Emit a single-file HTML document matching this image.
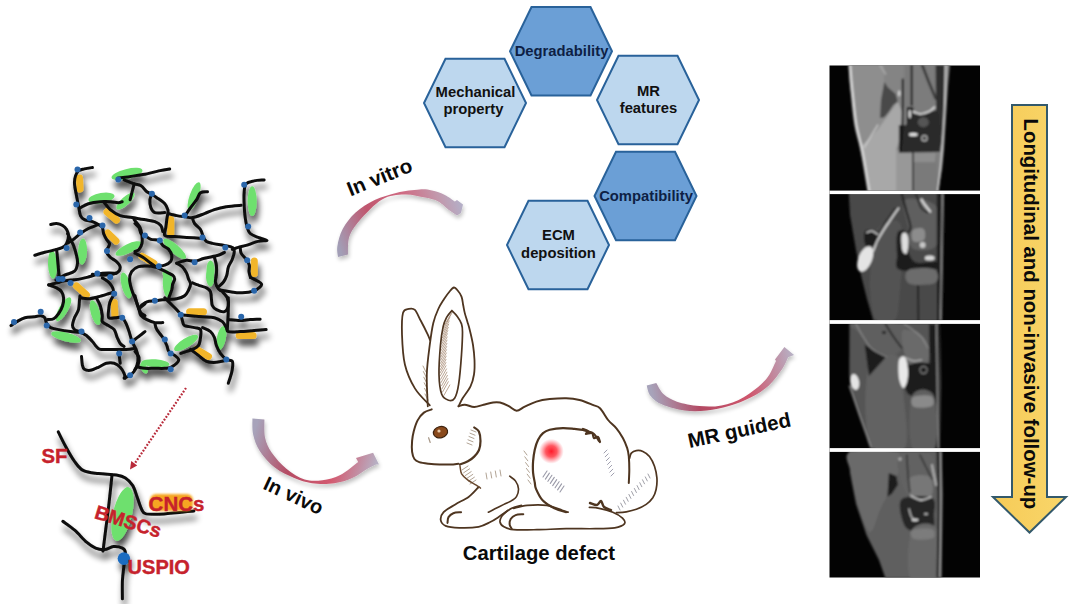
<!DOCTYPE html>
<html><head><meta charset="utf-8"><style>
html,body{margin:0;padding:0;background:#fff;width:1080px;height:604px;overflow:hidden}
svg{display:block}
text{font-family:"Liberation Sans",sans-serif;font-weight:bold}
.hx{font-size:14.8px}
.lb{font-size:20px;fill:#0a0a0a}
.rd{fill:#c6222c;stroke:#c6222c;stroke-width:0.4px}
</style></head><body>
<svg width="1080" height="604" viewBox="0 0 1080 604">
<defs>
<filter id="sh" x="-10%" y="-10%" width="130%" height="130%">
 <feGaussianBlur in="SourceAlpha" stdDeviation="3"/>
 <feOffset dx="1.5" dy="7" result="b"/>
 <feComponentTransfer><feFuncA type="linear" slope="0.7"/></feComponentTransfer>
 <feMerge><feMergeNode/><feMergeNode in="SourceGraphic"/></feMerge>
</filter>
<filter id="ash" x="-20%" y="-20%" width="140%" height="150%">
 <feGaussianBlur in="SourceAlpha" stdDeviation="2"/>
 <feOffset dx="1" dy="3" result="b"/>
 <feComponentTransfer><feFuncA type="linear" slope="0.25"/></feComponentTransfer>
 <feMerge result="m"><feMergeNode/><feMergeNode in="SourceGraphic"/></feMerge>
 <feGaussianBlur in="m" stdDeviation="0.6"/>
</filter>
<filter id="bl"><feGaussianBlur stdDeviation="1.2"/></filter>
<filter id="bl2"><feGaussianBlur stdDeviation="0.6"/></filter>
<linearGradient id="gy" x1="0" y1="0" x2="1" y2="0"><stop offset="0" stop-color="#f6cb58"/><stop offset="1" stop-color="#f9d66a"/></linearGradient>
<radialGradient id="spot"><stop offset="0" stop-color="#ff1a2a"/><stop offset="0.45" stop-color="#ff3a44" stop-opacity="0.85"/><stop offset="1" stop-color="#ff6070" stop-opacity="0"/></radialGradient>
<linearGradient id="gvitro" gradientUnits="userSpaceOnUse" x1="340" y1="250" x2="462" y2="208">
 <stop offset="0" stop-color="#a29eb6"/><stop offset="0.3" stop-color="#c0566e"/><stop offset="0.6" stop-color="#cf6a82"/><stop offset="0.85" stop-color="#c298ac"/><stop offset="1" stop-color="#b4aec6"/></linearGradient>
<linearGradient id="gvivo" gradientUnits="userSpaceOnUse" x1="258" y1="420" x2="378" y2="458">
 <stop offset="0" stop-color="#a7a3ba"/><stop offset="0.35" stop-color="#b54c64"/><stop offset="0.7" stop-color="#d35a70"/><stop offset="1" stop-color="#b7b0c4"/></linearGradient>
<linearGradient id="gmrg" gradientUnits="userSpaceOnUse" x1="650" y1="385" x2="792" y2="352">
 <stop offset="0" stop-color="#a7a3ba"/><stop offset="0.3" stop-color="#b34a63"/><stop offset="0.65" stop-color="#cf566d"/><stop offset="1" stop-color="#b7b0c4"/></linearGradient>
</defs>
<rect width="1080" height="604" fill="#fff"/>

<!-- network -->
<g filter="url(#sh)">
<g fill="#6ee06e"><ellipse cx="127.0" cy="174.0" rx="15.9" ry="5.0" transform="rotate(-14.0 127.0 174.0)"/><ellipse cx="101.5" cy="198.0" rx="13.2" ry="5.0" transform="rotate(-9.9 101.5 198.0)"/><ellipse cx="125.5" cy="201.0" rx="11.8" ry="4.0" transform="rotate(-43.0 125.5 201.0)"/><ellipse cx="52.5" cy="264.5" rx="14.0" ry="4.5" transform="rotate(87.7 52.5 264.5)"/><ellipse cx="82.5" cy="251.5" rx="13.0" ry="4.5" transform="rotate(92.5 82.5 251.5)"/><ellipse cx="194.1" cy="196.2" rx="14.7" ry="4.5" transform="rotate(109.7 194.1 196.2)"/><ellipse cx="252.2" cy="201.2" rx="14.9" ry="4.5" transform="rotate(90.0 252.2 201.2)"/><ellipse cx="174.7" cy="248.9" rx="14.5" ry="4.5" transform="rotate(40.5 174.7 248.9)"/><ellipse cx="210.5" cy="270.0" rx="9.5" ry="4.0" transform="rotate(90.0 210.5 270.0)"/><ellipse cx="167.5" cy="276.5" rx="7.5" ry="4.0" transform="rotate(65.6 167.5 276.5)"/><ellipse cx="128.5" cy="248.5" rx="14.2" ry="4.5" transform="rotate(-25.6 128.5 248.5)"/><ellipse cx="63.5" cy="309.2" rx="13.5" ry="4.5" transform="rotate(119.8 63.5 309.2)"/><ellipse cx="66.1" cy="337.0" rx="15.3" ry="4.5" transform="rotate(14.6 66.1 337.0)"/><ellipse cx="95.3" cy="312.7" rx="12.8" ry="4.5" transform="rotate(74.9 95.3 312.7)"/><ellipse cx="126.1" cy="285.4" rx="13.3" ry="4.5" transform="rotate(75.3 126.1 285.4)"/><ellipse cx="167.3" cy="283.9" rx="13.4" ry="4.5" transform="rotate(87.6 167.3 283.9)"/><ellipse cx="210.0" cy="277.4" rx="9.0" ry="4.0" transform="rotate(86.2 210.0 277.4)"/><ellipse cx="186.1" cy="342.9" rx="13.8" ry="4.5" transform="rotate(148.3 186.1 342.9)"/><ellipse cx="221.4" cy="338.0" rx="12.1" ry="4.5" transform="rotate(100.9 221.4 338.0)"/><ellipse cx="155.4" cy="363.3" rx="14.0" ry="4.0" transform="rotate(4.6 155.4 363.3)"/><ellipse cx="144.0" cy="368.0" rx="6.0" ry="3.0" transform="rotate(63.4 144.0 368.0)"/></g>
<g stroke="#f1b52c" stroke-width="7" stroke-linecap="round"><line x1="79.5" y1="178" x2="80" y2="189"/><line x1="107" y1="212" x2="116.5" y2="220"/><line x1="107.8" y1="233" x2="116" y2="241"/><line x1="170.7" y1="219.6" x2="170.7" y2="233.5"/><line x1="142" y1="256.3" x2="153.9" y2="263.3"/><line x1="254.3" y1="261" x2="254.3" y2="273.5"/><line x1="76.5" y1="285.9" x2="86.4" y2="294.8"/><line x1="114.3" y1="302.5" x2="114.8" y2="314.5"/><line x1="189.6" y1="311.7" x2="203.5" y2="311.7"/><line x1="239.2" y1="335.5" x2="253.1" y2="335.5"/><line x1="196.6" y1="349.4" x2="208.5" y2="356.4"/></g>
<g fill="none" stroke="#0a0a0a" stroke-width="3" stroke-linecap="round" stroke-linejoin="round"><path d="M92.4,167.5C91.1,167.7 86.7,168.3 84.4,168.9C82.1,169.5 80.0,169.7 78.5,170.9C77.0,172.1 76.2,173.8 75.5,175.9C74.8,178.1 74.3,180.5 74.5,183.8C74.7,187.1 75.8,192.0 76.5,195.7C77.2,199.3 77.8,202.4 78.5,205.7C79.2,209.0 79.5,213.3 80.5,215.6C81.5,217.9 82.4,218.6 84.4,219.6C86.4,220.6 90.1,220.8 92.4,221.6C94.7,222.4 96.7,223.5 98.3,224.5C99.9,225.5 101.4,226.0 102.3,227.5C103.2,229.0 102.9,231.5 103.6,233.5C104.3,235.5 105.6,237.9 106.6,239.6C107.6,241.3 109.2,242.3 109.5,243.6C109.8,244.9 108.8,246.1 108.3,247.4C107.8,248.7 106.0,249.7 106.3,251.3C106.6,253.0 108.5,255.6 110.2,257.3C111.9,259.0 114.5,259.7 116.2,261.3C117.9,262.9 120.2,265.2 120.2,267.2C120.2,269.2 118.9,271.9 116.2,273.2C113.5,274.5 108.3,275.0 104.3,275.2C100.3,275.4 94.4,274.4 92.4,274.2"/><path d="M80.5,207.7C81.8,207.0 85.1,204.7 88.4,203.7C91.7,202.7 96.7,202.0 100.3,201.7C103.9,201.4 107.2,201.5 110.2,201.7C113.2,201.9 116.2,202.7 118.2,202.7C120.2,202.7 121.5,201.9 122.2,201.7"/><path d="M104.3,202.7C105.3,203.8 107.5,207.4 110.2,209.6C112.9,211.8 116.6,214.3 120.2,215.6C123.8,216.9 128.1,216.9 132.1,217.6C136.1,218.3 140.2,218.9 144.0,219.6C147.8,220.3 152.1,220.6 154.9,221.6C157.7,222.6 159.5,223.8 160.8,225.5C162.1,227.2 162.5,230.5 162.8,231.5"/><path d="M98.3,224.5C96.7,225.2 91.4,227.0 88.4,228.5C85.4,230.0 83.0,231.7 80.5,233.5C78.0,235.3 75.6,237.8 73.5,239.4C71.4,241.0 68.9,242.4 68.0,243.0"/><path d="M50.7,224.5C51.7,224.3 54.6,223.3 56.6,223.5C58.6,223.7 60.9,224.5 62.6,225.5C64.3,226.5 65.6,227.8 66.6,229.5C67.6,231.2 68.5,233.2 68.5,235.5C68.5,237.8 67.6,241.4 66.6,243.4C65.6,245.4 64.9,246.2 62.6,247.4C60.3,248.6 55.7,249.6 52.7,250.4C49.7,251.2 47.7,251.5 44.7,252.3C41.7,253.1 36.4,254.8 34.8,255.3"/><path d="M67.6,233.5C68.1,234.5 69.5,237.4 70.5,239.4C71.5,241.4 72.5,242.8 73.5,245.4C74.5,248.1 75.8,252.3 76.5,255.3C77.2,258.3 77.8,260.7 77.5,263.3C77.2,265.9 76.7,269.2 74.5,271.2C72.3,273.2 67.7,273.7 64.6,275.2C61.5,276.7 57.4,279.2 56.0,280.0"/><path d="M56.6,249.4C56.8,251.1 57.3,255.7 57.6,259.3C57.9,262.9 58.3,267.9 58.6,271.2C58.9,274.5 59.4,277.8 59.6,279.1"/><path d="M118.2,177.9C119.8,177.7 124.5,177.4 128.1,176.9C131.7,176.4 136.9,175.4 140.0,174.9C143.1,174.4 143.8,174.6 146.9,173.9C150.0,173.2 155.0,171.7 158.8,170.9C162.6,170.1 167.9,169.2 169.7,168.9"/><path d="M124.1,179.9C125.8,180.6 131.3,182.8 134.1,183.8C136.9,184.8 138.9,184.5 141.0,185.8C143.1,187.1 145.2,190.5 146.9,191.8C148.6,193.1 149.2,192.8 150.9,193.8C152.6,194.8 154.5,196.0 156.8,197.7C159.1,199.3 163.0,201.7 164.8,203.7C166.6,205.7 167.1,207.9 167.8,209.6C168.5,211.2 167.3,212.6 168.8,213.6C170.3,214.6 174.1,215.1 176.7,215.6C179.3,216.1 181.9,216.3 184.6,216.6C187.2,216.9 189.3,218.1 192.6,217.6C195.9,217.1 200.9,214.9 204.5,213.6C208.1,212.3 210.8,210.8 214.4,209.6C218.0,208.4 221.8,207.4 226.3,206.7C230.8,206.0 238.7,205.5 241.2,205.3"/><path d="M134.1,183.8C133.8,185.1 132.8,189.2 132.1,191.8C131.4,194.5 130.4,198.4 130.1,199.7"/><path d="M134.1,219.6C135.1,220.9 138.7,224.8 140.0,227.5C141.3,230.2 141.7,232.8 142.0,235.5C142.3,238.2 142.5,241.1 142.0,243.4C141.5,245.7 140.2,248.1 139.0,249.4C137.8,250.7 135.7,251.0 135.0,251.3"/><path d="M151.9,193.8C151.6,194.8 150.1,197.4 149.9,199.7C149.7,202.0 150.1,205.5 150.9,207.7C151.7,209.8 152.6,211.8 154.9,212.6C157.2,213.4 163.2,212.6 164.8,212.6"/><path d="M184.6,216.6C185.6,215.1 188.6,210.5 190.6,207.7C192.6,204.9 194.9,202.2 196.6,199.7C198.2,197.2 198.7,194.1 200.5,192.8C202.3,191.5 206.3,192.0 207.5,191.8"/><path d="M167.8,213.6C167.6,214.6 167.1,217.3 166.8,219.6C166.5,221.9 166.1,224.8 165.8,227.5C165.5,230.2 163.3,234.0 164.8,235.5C166.3,237.0 171.1,236.2 174.7,236.5C178.3,236.8 182.0,237.1 186.6,237.4C191.2,237.7 199.8,238.2 202.5,238.4"/><path d="M192.6,218.6C192.9,219.4 193.3,221.7 194.6,223.5C195.9,225.3 199.0,227.2 200.5,229.5C202.0,231.8 202.5,235.4 203.5,237.4C204.5,239.4 205.0,240.4 206.5,241.4C208.0,242.4 209.4,242.7 212.4,243.4C215.4,244.1 221.1,244.7 224.4,245.4C227.7,246.1 230.7,246.4 232.3,247.4C234.0,248.4 234.3,249.3 234.3,251.3C234.3,253.3 233.3,256.7 232.3,259.3C231.3,261.9 229.2,264.6 228.3,267.2C227.4,269.8 227.6,272.7 226.8,275.2C226.0,277.7 224.9,280.1 223.5,282.0C222.1,283.9 219.2,286.1 218.4,286.9"/><path d="M264.1,179.9C262.4,180.1 257.1,180.2 254.1,180.9C251.1,181.6 247.8,182.0 246.2,183.8C244.5,185.6 244.5,188.2 244.2,191.8C243.9,195.5 244.0,201.4 244.2,205.7C244.4,210.0 244.7,214.0 245.2,217.6C245.7,221.2 246.4,224.8 247.2,227.5C248.0,230.2 248.4,231.8 250.2,233.5C252.0,235.2 255.3,236.2 258.1,237.4C260.9,238.6 267.0,239.7 267.0,240.4C267.0,241.1 261.6,240.6 258.1,241.4C254.6,242.2 249.5,244.4 246.2,245.4C242.9,246.4 240.6,246.7 238.3,247.4C236.0,248.1 233.3,249.1 232.3,249.4"/><path d="M240.2,247.4C240.4,248.4 240.2,251.3 241.2,253.3C242.2,255.3 244.8,257.3 246.2,259.3C247.5,261.3 248.8,263.1 249.3,265.2C249.8,267.2 248.8,269.6 249.0,271.6C249.2,273.7 250.2,276.5 250.5,277.5"/><path d="M135.0,223.5C135.7,224.2 138.0,225.8 139.0,227.5C140.0,229.2 140.0,232.2 141.0,233.5C142.0,234.8 143.2,234.5 144.9,235.5C146.6,236.5 148.6,238.6 150.9,239.4C153.2,240.2 156.8,239.4 158.8,240.4C160.8,241.4 161.1,243.9 162.8,245.4C164.5,246.9 167.3,247.8 168.8,249.4C170.3,251.1 171.4,253.3 171.7,255.3C172.0,257.3 171.8,259.7 170.7,261.3C169.5,262.9 166.8,264.4 164.8,265.2C162.8,266.0 159.8,266.0 158.8,266.2"/><path d="M135.0,253.3C136.3,254.0 140.2,255.6 142.9,257.3C145.6,259.0 148.6,261.7 150.9,263.3C153.2,264.9 154.5,265.9 156.8,267.2C159.1,268.5 162.2,269.9 164.8,271.2C167.5,272.5 171.0,273.9 172.7,275.2C174.3,276.5 174.7,277.6 174.7,279.1C174.7,280.6 173.2,282.2 172.7,284.0C172.2,285.8 172.3,287.6 171.7,289.9C171.0,292.2 169.3,296.5 168.8,297.8"/><path d="M176.7,263.3C178.3,262.8 183.6,260.6 186.6,260.3C189.6,260.0 191.6,261.6 194.6,261.3C197.6,261.0 200.5,259.3 204.5,258.3C208.5,257.3 215.1,256.3 218.4,255.3C221.7,254.3 223.4,252.8 224.4,252.3"/><path d="M176.7,263.3C177.7,263.9 181.0,265.6 182.7,267.2C184.3,268.8 185.6,271.2 186.6,273.2C187.6,275.2 187.9,277.3 188.6,279.1C189.3,280.9 190.6,282.2 190.6,284.0C190.6,285.8 189.6,288.0 188.6,290.0C187.6,292.0 186.6,294.3 184.6,295.8C182.6,297.3 180.3,298.1 176.7,298.8C173.1,299.5 166.4,299.5 162.8,299.8C159.2,300.1 157.6,300.5 154.9,300.8C152.2,301.1 149.2,301.0 146.9,301.8C144.6,302.6 142.0,305.1 141.0,305.7"/><path d="M214.4,257.3C214.7,258.6 216.1,262.2 216.4,265.2C216.7,268.2 216.6,272.4 216.4,275.2C216.2,278.0 215.1,279.6 215.4,281.9C215.7,284.2 217.2,287.2 218.4,288.9C219.6,290.5 220.9,290.3 222.4,291.8C223.9,293.3 226.3,295.5 227.3,297.8C228.3,300.1 228.8,303.4 228.3,305.7C227.8,308.0 226.4,311.0 224.4,311.7C222.4,312.4 218.4,310.7 216.4,309.7C214.4,308.7 213.2,307.3 212.4,305.7C211.6,304.1 211.8,302.1 211.5,299.8C211.2,297.5 211.3,293.8 210.5,291.8C209.7,289.8 208.2,288.9 206.5,287.9C204.8,286.9 202.8,286.7 200.5,285.9C198.2,285.1 193.9,283.4 192.6,282.9"/><path d="M48.7,284.9C50.0,284.6 54.0,283.6 56.6,282.9C59.2,282.2 61.9,281.4 64.6,280.9C67.2,280.4 69.8,280.2 72.5,279.9C75.2,279.6 77.8,279.4 80.5,278.9C83.2,278.4 85.4,277.8 88.4,277.0C91.4,276.2 95.0,274.7 98.3,274.0C101.6,273.3 105.3,273.1 108.3,273.0C111.3,272.9 114.9,273.2 116.2,273.2"/><path d="M48.7,284.9C50.0,285.4 54.5,286.8 56.6,287.9C58.8,289.0 60.4,290.1 61.6,291.8C62.8,293.5 63.4,295.5 63.6,297.8C63.8,300.1 63.4,303.1 62.6,305.7C61.8,308.3 60.1,311.5 58.6,313.7C57.1,315.9 55.5,317.7 53.7,318.7C51.9,319.7 48.7,319.5 47.7,319.6"/><path d="M11.0,325.6C12.0,324.9 14.6,322.9 16.9,321.6C19.2,320.3 21.9,318.5 24.9,317.7C27.9,316.9 32.2,317.0 34.8,316.7C37.4,316.4 39.1,315.5 40.7,315.7C42.4,315.9 43.7,316.4 44.7,317.7C45.7,319.0 45.7,322.0 46.7,323.6C47.7,325.2 48.7,326.6 50.7,327.6C52.7,328.6 55.3,328.9 58.6,329.6C61.9,330.3 66.8,331.1 70.5,331.6C74.2,332.1 77.8,331.9 80.5,332.5C83.2,333.1 84.4,334.0 86.4,335.5C88.4,337.0 90.8,339.7 92.4,341.5C94.1,343.3 95.0,345.2 96.3,346.5C97.6,347.8 98.3,348.9 100.3,349.4C102.3,349.9 105.3,349.4 108.3,349.4C111.3,349.4 115.2,349.4 118.2,349.4C121.2,349.4 123.4,349.6 126.1,349.4C128.8,349.2 132.8,348.6 134.1,348.4"/><path d="M80.0,296.0C79.9,296.7 79.8,297.7 79.5,300.0C79.2,302.3 79.3,306.8 78.5,309.7C77.7,312.6 75.5,315.0 74.5,317.7C73.5,320.4 72.5,323.6 72.5,325.6C72.5,327.6 73.2,328.6 74.5,329.6C75.8,330.6 79.5,331.3 80.5,331.6"/><path d="M80.5,297.8C81.8,298.0 85.4,299.0 88.4,298.8C91.4,298.6 95.0,297.6 98.3,296.8C101.6,296.0 105.8,294.6 108.3,293.8C110.8,293.0 112.5,293.0 113.2,291.8C113.9,290.6 113.0,288.5 112.2,286.9C111.4,285.2 110.0,283.4 108.3,281.9C106.6,280.4 103.3,278.6 102.3,277.9"/><path d="M96.3,297.8C97.0,299.1 99.3,302.7 100.3,305.7C101.3,308.7 102.0,313.0 102.3,315.7C102.6,318.4 101.3,320.0 102.3,321.6C103.3,323.2 106.3,324.3 108.3,325.6C110.3,326.9 112.7,327.6 114.2,329.6C115.7,331.6 116.2,335.2 117.2,337.5C118.2,339.8 119.1,342.0 120.2,343.5C121.3,345.0 123.4,346.0 124.1,346.5"/><path d="M113.2,295.8C112.7,296.8 110.8,299.6 110.0,302.0C109.2,304.4 108.8,307.4 108.6,310.0C108.4,312.6 107.7,316.4 108.8,317.7C109.9,319.0 113.0,317.7 115.2,317.7C117.4,317.7 120.4,316.7 122.2,317.7C124.0,318.7 124.9,321.3 126.1,323.6C127.2,325.9 128.1,328.6 129.1,331.6C130.1,334.6 130.9,338.5 132.1,341.5C133.3,344.5 135.1,346.8 136.1,349.4C137.1,352.0 137.8,354.8 138.0,357.4C138.2,360.0 137.7,363.0 137.0,365.3C136.3,367.6 135.2,369.7 134.1,371.3C132.9,372.9 131.8,374.1 130.1,375.2C128.4,376.3 125.1,377.7 124.1,378.2"/><path d="M81.5,356.4C81.7,357.9 81.9,363.1 82.4,365.3C82.9,367.5 83.1,368.5 84.4,369.3C85.7,370.1 88.1,370.6 90.4,370.3C92.7,370.0 95.7,368.5 98.3,367.3C100.9,366.1 103.6,364.0 106.3,363.3C109.0,362.6 111.9,362.6 114.2,363.3C116.5,364.0 118.6,365.6 120.2,367.3C121.8,369.0 123.3,371.5 124.1,373.3C124.9,375.1 124.9,377.4 125.1,378.2"/><path d="M118.2,349.4C118.4,350.4 118.9,353.1 119.2,355.4C119.5,357.7 120.0,362.0 120.2,363.3"/><path d="M132.1,341.5C133.4,340.5 137.8,337.1 140.0,335.5C142.2,333.9 144.2,332.2 145.0,331.6"/><path d="M157.0,267.5C155.5,267.2 151.1,266.1 148.0,266.0C144.9,265.9 141.2,265.7 138.5,266.6C135.8,267.5 133.1,269.5 131.6,271.6C130.1,273.8 129.6,276.5 129.6,279.5C129.6,282.5 130.6,286.1 131.6,289.4C132.6,292.7 134.3,296.4 135.5,299.4C136.7,302.4 137.6,305.0 138.5,307.3C139.4,309.6 139.9,311.6 141.0,313.0C142.1,314.4 144.3,315.2 145.0,315.7"/><path d="M140.0,307.7L145.0,303.8"/><path d="M58.6,276.0L58.6,282.0"/><path d="M135.0,295.8C135.3,297.1 136.3,301.5 137.0,303.8C137.7,306.1 138.3,307.7 139.0,309.7C139.7,311.7 139.7,314.0 141.0,315.7C142.3,317.4 144.6,318.5 146.9,319.6C149.2,320.8 152.2,322.1 154.9,322.6C157.6,323.1 161.5,322.6 162.8,322.6"/><path d="M164.8,297.8C165.8,298.8 168.7,301.8 170.7,303.8C172.7,305.8 175.0,307.9 176.7,309.7C178.4,311.5 179.7,312.7 180.7,314.7C181.7,316.7 182.0,319.8 182.7,321.6C183.3,323.4 182.6,324.6 184.6,325.6C186.6,326.6 191.9,326.9 194.6,327.6C197.2,328.3 199.5,328.0 200.5,329.6C201.5,331.2 200.8,334.9 200.5,337.5C200.2,340.1 199.8,343.5 198.5,345.5C197.2,347.5 194.6,348.4 192.6,349.4C190.6,350.4 188.6,350.7 186.6,351.4C184.6,352.1 181.7,353.1 180.7,353.4"/><path d="M180.7,314.7C182.3,314.9 187.0,315.4 190.6,315.7C194.2,316.0 198.5,316.4 202.5,316.7C206.5,317.0 211.1,316.9 214.4,317.7C217.7,318.5 220.4,320.0 222.4,321.6C224.4,323.2 225.3,325.9 226.3,327.6C227.3,329.3 226.0,330.9 228.3,331.6C230.6,332.3 235.9,331.8 240.2,331.6C244.5,331.4 249.8,330.9 254.1,330.6C258.4,330.3 264.1,329.8 266.1,329.6"/><path d="M202.5,327.6C203.8,328.3 208.5,330.0 210.5,331.6C212.5,333.2 213.4,335.2 214.4,337.5C215.4,339.8 215.4,342.9 216.4,345.5C217.4,348.1 218.8,351.1 220.4,353.4C222.1,355.7 224.3,358.1 226.3,359.4C228.3,360.7 231.3,359.6 232.3,361.3C233.3,363.0 232.6,366.7 232.3,369.3C232.0,371.9 231.0,374.9 230.3,377.2C229.6,379.5 228.6,382.2 228.3,383.2"/><path d="M190.6,349.4C191.9,350.4 195.8,353.4 198.5,355.4C201.2,357.4 203.5,360.1 206.5,361.3C209.5,362.5 213.1,362.5 216.4,362.3C219.7,362.1 224.7,360.6 226.3,360.3"/><path d="M228.3,297.8C228.3,299.8 228.4,306.1 228.3,309.7C228.2,313.3 228.1,316.3 227.9,319.6C227.7,322.9 227.4,327.9 227.3,329.6"/><path d="M228.3,319.6C230.3,319.8 236.5,320.6 240.2,320.6C243.8,320.6 246.9,319.8 250.2,319.6C253.5,319.4 258.5,319.3 260.1,319.2"/><path d="M220.4,289.9C222.1,290.2 226.7,291.3 230.3,291.8C233.9,292.3 238.2,293.0 242.2,292.8C246.2,292.6 251.1,291.8 254.1,290.8C257.1,289.8 258.9,288.0 260.1,286.9C261.3,285.8 261.9,285.0 261.5,284.0C261.1,283.0 259.3,282.1 257.5,281.0C255.7,279.9 251.7,278.1 250.5,277.5"/><path d="M154.9,323.6C155.2,324.6 155.5,327.3 156.8,329.6C158.1,331.9 161.1,334.9 162.8,337.5C164.5,340.1 165.8,343.2 166.8,345.5C167.8,347.8 167.5,349.8 168.8,351.4C170.1,353.0 173.0,354.1 174.7,355.4C176.3,356.7 178.4,358.1 178.7,359.4C179.0,360.7 178.0,362.0 176.7,363.3C175.4,364.6 172.7,366.5 170.7,367.3C168.7,368.1 167.4,368.1 164.8,368.3C162.2,368.5 158.2,368.3 154.9,368.3C151.6,368.3 147.6,368.5 144.9,368.3C142.2,368.1 140.0,367.5 139.0,367.3"/><path d="M135.0,351.4C135.7,352.4 138.5,355.1 139.0,357.4C139.5,359.7 138.7,363.3 138.0,365.3C137.3,367.3 135.5,368.6 135.0,369.3"/></g>
<g fill="#2a66aa"><circle cx="77.5" cy="169.5" r="3"/><circle cx="76.3" cy="204.5" r="3"/><circle cx="89.5" cy="218" r="3"/><circle cx="102.5" cy="225.5" r="3"/><circle cx="80.2" cy="232.6" r="3"/><circle cx="118.3" cy="179.5" r="3"/><circle cx="107" cy="251" r="3"/><circle cx="66.6" cy="248" r="3"/><circle cx="151.9" cy="193.8" r="3"/><circle cx="184.6" cy="215.6" r="3"/><circle cx="244.2" cy="184.8" r="3"/><circle cx="248.2" cy="226.5" r="3"/><circle cx="202.5" cy="237.4" r="3"/><circle cx="225.3" cy="247.4" r="3"/><circle cx="159.8" cy="240.4" r="3"/><circle cx="144.9" cy="235.5" r="3"/><circle cx="158.8" cy="266.2" r="3"/><circle cx="194.6" cy="262.3" r="3"/><circle cx="247.2" cy="260.3" r="3"/><circle cx="40.7" cy="311.7" r="3"/><circle cx="46.7" cy="325.6" r="3"/><circle cx="81.5" cy="331.6" r="3"/><circle cx="58.6" cy="278.9" r="3"/><circle cx="70.5" cy="282.9" r="3"/><circle cx="97.3" cy="273.6" r="3"/><circle cx="110.2" cy="277" r="3"/><circle cx="114.2" cy="293.8" r="3"/><circle cx="122.2" cy="317.7" r="3"/><circle cx="132.1" cy="341.5" r="3"/><circle cx="119.2" cy="353.4" r="3"/><circle cx="130.1" cy="375.2" r="3"/><circle cx="154.9" cy="300.8" r="3"/><circle cx="180.7" cy="314.7" r="3"/><circle cx="164.8" cy="339.5" r="3"/><circle cx="170.7" cy="353.4" r="3"/><circle cx="170.7" cy="369.3" r="3"/><circle cx="226.3" cy="359.4" r="3"/><circle cx="241.2" cy="316.7" r="3"/><circle cx="254.1" cy="290.8" r="3"/><circle cx="14" cy="322" r="3"/><circle cx="130.1" cy="259.3" r="3"/><circle cx="62.5" cy="279" r="3"/></g>
</g>

<!-- dotted arrow -->
<g stroke="#b82a3a" stroke-width="2.2" stroke-dasharray="1.8 1.6" fill="none"><line x1="186" y1="388" x2="135" y2="463"/></g>
<path d="M130,469.5 L131.2,461 L137.2,465.5 Z" fill="#b82a3a"/>

<!-- zoom detail -->
<g filter="url(#sh)">
<ellipse cx="122.5" cy="514" rx="27.5" ry="9.5" transform="rotate(-77 122.5 514)" fill="#6ee06e"/>
<g fill="none" stroke="#0a0a0a" stroke-width="3" stroke-linecap="round" stroke-linejoin="round">
<path d="M58.3,431.9C59.5,434.4 63.1,441.8 65.8,446.8C68.5,451.8 71.7,457.7 74.7,461.7C77.7,465.7 79.6,468.7 83.6,470.7C87.6,472.7 93.0,472.9 98.5,473.6C104.0,474.3 111.9,474.4 116.4,475.1C120.9,475.9 122.7,476.4 125.4,478.1C128.1,479.9 130.8,482.4 132.8,485.6C134.8,488.8 135.8,493.5 137.3,497.5C138.8,501.5 140.2,506.7 141.7,509.4C143.2,512.1 142.5,513.1 146.2,513.9C149.9,514.6 156.1,514.4 164.1,513.9C172.1,513.4 188.9,511.4 193.9,510.9"/>
<path d="M112.0,475.1C111.5,479.8 110.0,494.7 109.0,503.4C108.0,512.1 107.0,519.3 106.0,527.3C105.0,535.2 103.5,547.1 103.0,551.1"/>
<path d="M62.8,521.3C64.8,522.8 70.7,526.7 74.7,530.2C78.7,533.7 83.1,539.2 86.6,542.2C90.1,545.2 92.6,546.9 95.6,548.1C98.6,549.3 101.5,549.9 104.5,549.6C107.5,549.4 110.4,546.9 113.4,546.6C116.4,546.4 120.4,547.1 122.4,548.1C124.4,549.1 125.2,549.6 125.4,552.6C125.7,555.6 124.4,561.3 123.9,566.0C123.4,570.7 122.7,575.4 122.4,580.9C122.2,586.4 122.4,595.8 122.4,598.8"/>
</g>
<circle cx="123.9" cy="558.6" r="6.3" fill="#1f6cc0"/>
</g>
<rect x="150" y="494" width="43" height="17" rx="6" fill="#f6a623" filter="url(#bl)"/>
<text x="148.6" y="510.6" class="rd" style="font-size:20.5px">CNCs</text>
<text x="41.6" y="462.5" class="rd" style="font-size:20.3px">SF</text>
<text x="127.6" y="573.5" class="rd" style="font-size:20px">USPIO</text>
<text transform="translate(93.5,518) rotate(17)" class="rd" style="font-size:19.5px">BMSCs</text>

<!-- hexagons -->
<polygon points="531.5,7.1 590.5,7.1 612.0,51.3 590.5,95.5 531.5,95.5 510.0,51.3" fill="#6b9fd6" stroke="#29629a" stroke-width="2"/><text x="561.5" y="56" text-anchor="middle" fill="#0e1f45" class="hx">Degradability</text><polygon points="445.5,58.8 504.5,58.8 526.0,103.0 504.5,147.2 445.5,147.2 424.0,103.0" fill="#bdd7ee" stroke="#29629a" stroke-width="2"/><text x="475.5" y="96.5" text-anchor="middle" fill="#111" class="hx">Mechanical</text><text x="473.5" y="114" text-anchor="middle" fill="#111" class="hx">property</text><polygon points="618.5,55.8 677.5,55.8 699.0,100.0 677.5,144.2 618.5,144.2 597.0,100.0" fill="#bdd7ee" stroke="#29629a" stroke-width="2"/><text x="648.5" y="95.5" text-anchor="middle" fill="#111" class="hx">MR</text><text x="648.5" y="113" text-anchor="middle" fill="#111" class="hx">features</text><polygon points="616.0,151.8 675.0,151.8 696.5,196.0 675.0,240.2 616.0,240.2 594.5,196.0" fill="#6b9fd6" stroke="#29629a" stroke-width="2"/><text x="646.0" y="200.5" text-anchor="middle" fill="#0e1f45" class="hx">Compatibility</text><polygon points="528.5,200.8 587.5,200.8 609.0,245.0 587.5,289.2 528.5,289.2 507.0,245.0" fill="#bdd7ee" stroke="#29629a" stroke-width="2"/><text x="558.5" y="240" text-anchor="middle" fill="#111" class="hx">ECM</text><text x="558.5" y="257.5" text-anchor="middle" fill="#111" class="hx">deposition</text>

<!-- arrows -->
<g filter="url(#ash)">
<path d="M338.0,257.0C337.9,255.2 336.6,250.7 337.4,246.0C338.2,241.3 339.7,234.6 342.7,229.1C345.7,223.6 350.0,217.6 355.3,212.8C360.6,208.0 367.8,203.4 374.7,200.1C381.6,196.8 389.6,194.5 397.0,192.7C404.4,190.9 413.6,189.9 419.4,189.5C425.2,189.1 427.8,189.6 432.0,190.5C436.2,191.4 441.1,193.1 444.9,194.9C448.7,196.7 453.1,200.4 454.8,201.5L457.0,200.0L463.0,204.5L461.0,213.0L457.0,215.5L448.2,209.5C446.5,208.2 442.1,203.5 438.2,201.5C434.3,199.5 430.6,198.8 425.0,197.6C419.4,196.4 411.6,194.2 404.5,194.5C397.4,194.8 389.6,195.1 382.1,199.4C374.7,203.7 365.2,214.0 359.8,220.2C354.4,226.4 351.4,230.9 349.4,236.6C347.4,242.3 348.2,251.5 348.0,254.5Z" fill="url(#gvitro)"/>
<path d="M264.4,419.5C264.5,422.6 263.9,432.3 265.1,437.8C266.3,443.3 268.2,447.5 271.8,452.7C275.4,457.9 281.2,464.5 286.7,469.0C292.2,473.5 298.6,477.6 304.6,479.5C310.6,481.4 316.6,480.9 322.5,480.2C328.4,479.4 334.4,478.0 340.3,475.0C346.2,472.0 355.2,464.2 358.2,462.0L356.0,458.0L373.1,452.7L379.0,464.6L376.0,464.6C374.5,465.3 371.1,466.8 367.1,469.0C363.2,471.2 357.8,475.6 352.3,478.0C346.9,480.4 341.1,482.3 334.4,483.2C327.7,484.1 318.7,484.1 312.0,483.2C305.3,482.3 300.4,480.6 294.2,478.0C288.0,475.4 280.5,472.1 274.8,467.6C269.1,463.1 263.5,456.7 259.9,451.2C256.3,445.7 254.4,440.3 253.2,434.8C251.9,429.3 252.5,421.1 252.4,418.4Z" fill="url(#gvivo)"/>
<path d="M656.3,383.1C657.5,385.0 660.2,391.2 663.7,394.3C667.2,397.4 671.1,399.7 677.0,401.7C682.9,403.7 691.9,405.5 699.3,406.1C706.7,406.7 714.1,406.9 721.5,405.4C728.9,403.9 736.3,401.5 743.7,397.2C751.1,392.9 760.5,385.4 765.9,379.4C771.3,373.4 774.3,364.1 776.0,361.0L775.0,359.4L784.4,346.9L794.1,355.0L788.1,357.2C787.1,359.2 785.4,364.4 782.2,369.1C779.0,373.8 774.1,380.7 768.9,385.4C763.7,390.1 757.8,393.8 751.1,397.2C744.4,400.6 736.3,403.9 728.9,406.1C721.5,408.3 714.1,409.9 706.7,410.6C699.3,411.4 691.8,411.6 684.4,410.6C677.0,409.6 667.9,407.1 662.2,404.6C656.5,402.1 653.0,398.9 650.4,395.7C647.8,392.5 647.3,387.1 646.7,385.4Z" fill="url(#gmrg)"/>
</g>
<text transform="translate(350.5,196.5) rotate(-22)" class="lb" style="font-size:20.5px">In vitro</text>
<text transform="translate(262,488.5) rotate(25)" class="lb">In vivo</text>
<text transform="translate(689.5,448) rotate(-12)" class="lb" style="font-size:20.5px">MR guided</text>
<text x="462.8" y="560.2" class="lb" style="font-size:20.3px">Cartilage defect</text>

<!-- rabbit -->
<circle cx="551.3" cy="451.3" r="12.5" fill="url(#spot)"/>
<g stroke="#9a7a60" stroke-width="0.8" opacity="0.85"><line x1="446.8" y1="322.0" x2="453.0" y2="311.0"/><line x1="444.6" y1="325.2" x2="450.8" y2="314.2"/><line x1="443.7" y1="328.4" x2="449.9" y2="317.4"/><line x1="443.2" y1="331.6" x2="449.4" y2="320.6"/><line x1="442.7" y1="334.8" x2="448.9" y2="323.8"/><line x1="442.3" y1="338.0" x2="448.5" y2="327.0"/><line x1="441.8" y1="341.2" x2="448.0" y2="330.2"/><line x1="441.4" y1="344.4" x2="447.6" y2="333.4"/><line x1="441.2" y1="347.6" x2="447.4" y2="336.6"/><line x1="441.0" y1="350.8" x2="447.2" y2="339.8"/><line x1="440.9" y1="354.0" x2="447.1" y2="343.0"/><line x1="440.7" y1="357.2" x2="446.9" y2="346.2"/><line x1="440.5" y1="360.4" x2="446.7" y2="349.4"/><line x1="440.4" y1="363.6" x2="446.6" y2="352.6"/><line x1="440.2" y1="366.8" x2="446.4" y2="355.8"/><line x1="440.1" y1="370.0" x2="446.2" y2="359.0"/><line x1="439.9" y1="373.2" x2="446.1" y2="362.2"/><line x1="440.0" y1="376.4" x2="446.2" y2="365.4"/><line x1="440.5" y1="379.6" x2="446.7" y2="368.6"/><line x1="440.9" y1="382.8" x2="447.1" y2="371.8"/><line x1="441.4" y1="386.0" x2="447.6" y2="375.0"/><line x1="441.8" y1="389.2" x2="448.0" y2="378.2"/><line x1="442.3" y1="392.4" x2="448.5" y2="381.4"/><line x1="443.8" y1="395.6" x2="450.0" y2="384.6"/></g><g stroke="#a08a70" stroke-width="0.8" stroke-linecap="round"><line x1="426.0" y1="372.0" x2="423.0" y2="366.0"/><line x1="426.4" y1="377.6" x2="423.4" y2="371.6"/><line x1="426.8" y1="383.2" x2="423.8" y2="377.2"/><line x1="427.2" y1="388.8" x2="424.2" y2="382.8"/><line x1="427.6" y1="394.4" x2="424.6" y2="388.4"/><line x1="428.0" y1="400.0" x2="425.0" y2="394.0"/></g><g stroke="#a89888" stroke-width="0.9" stroke-linecap="round"><line x1="462.0" y1="470.0" x2="468.0" y2="466.0"/><line x1="463.6" y1="472.8" x2="469.6" y2="468.8"/><line x1="465.2" y1="475.6" x2="471.2" y2="471.6"/><line x1="466.8" y1="478.4" x2="472.8" y2="474.4"/><line x1="468.4" y1="481.2" x2="474.4" y2="477.2"/><line x1="470.0" y1="484.0" x2="476.0" y2="480.0"/></g><g stroke="#a89888" stroke-width="0.9" stroke-linecap="round"><line x1="472.0" y1="445.0" x2="467.0" y2="443.0"/><line x1="473.0" y1="441.8" x2="468.0" y2="439.8"/><line x1="474.0" y1="438.5" x2="469.0" y2="436.5"/><line x1="475.0" y1="435.2" x2="470.0" y2="433.2"/><line x1="476.0" y1="432.0" x2="471.0" y2="430.0"/></g><g stroke="#9a9aa8" stroke-width="1.1" stroke-linecap="round"><line x1="543.0" y1="477.0" x2="547.0" y2="471.0"/><line x1="545.4" y1="479.1" x2="549.4" y2="473.1"/><line x1="547.9" y1="481.3" x2="551.9" y2="475.3"/><line x1="550.3" y1="483.4" x2="554.3" y2="477.4"/><line x1="552.7" y1="485.6" x2="556.7" y2="479.6"/><line x1="555.1" y1="487.7" x2="559.1" y2="481.7"/><line x1="557.6" y1="489.9" x2="561.6" y2="483.9"/><line x1="560.0" y1="492.0" x2="564.0" y2="486.0"/></g><g stroke="#a0a0b0" stroke-width="1" stroke-linecap="round"><line x1="604.0" y1="453.0" x2="607.0" y2="450.0"/><line x1="605.2" y1="456.8" x2="608.2" y2="453.8"/><line x1="606.3" y1="460.7" x2="609.3" y2="457.7"/><line x1="607.5" y1="464.5" x2="610.5" y2="461.5"/><line x1="608.7" y1="468.3" x2="611.7" y2="465.3"/><line x1="609.8" y1="472.2" x2="612.8" y2="469.2"/><line x1="611.0" y1="476.0" x2="614.0" y2="473.0"/></g><g stroke="#a0a0a8" stroke-width="1" stroke-linecap="round"><line x1="650.0" y1="478.0" x2="648.0" y2="474.0"/><line x1="647.3" y1="480.9" x2="645.3" y2="476.9"/><line x1="644.5" y1="483.8" x2="642.5" y2="479.8"/><line x1="641.8" y1="486.7" x2="639.8" y2="482.7"/><line x1="639.1" y1="489.6" x2="637.1" y2="485.6"/><line x1="636.4" y1="492.5" x2="634.4" y2="488.5"/><line x1="633.6" y1="495.5" x2="631.6" y2="491.5"/><line x1="630.9" y1="498.4" x2="628.9" y2="494.4"/><line x1="628.2" y1="501.3" x2="626.2" y2="497.3"/><line x1="625.5" y1="504.2" x2="623.5" y2="500.2"/><line x1="622.7" y1="507.1" x2="620.7" y2="503.1"/><line x1="620.0" y1="510.0" x2="618.0" y2="506.0"/></g><g stroke="#a89888" stroke-width="0.9" stroke-linecap="round"><line x1="527.0" y1="455.0" x2="524.0" y2="451.0"/><line x1="527.8" y1="460.8" x2="524.8" y2="456.8"/><line x1="528.6" y1="466.6" x2="525.6" y2="462.6"/><line x1="529.4" y1="472.4" x2="526.4" y2="468.4"/><line x1="530.2" y1="478.2" x2="527.2" y2="474.2"/><line x1="531.0" y1="484.0" x2="528.0" y2="480.0"/></g><g stroke="#a89888" stroke-width="0.9" stroke-linecap="round"><line x1="486.0" y1="473.0" x2="487.0" y2="479.0"/><line x1="490.7" y1="472.0" x2="491.7" y2="478.0"/><line x1="495.3" y1="471.0" x2="496.3" y2="477.0"/><line x1="500.0" y1="470.0" x2="501.0" y2="476.0"/></g>
<g fill="none" stroke-linecap="round" stroke-linejoin="round"><path d="M429.8,405.3C427.3,402.5 419.0,395.2 414.9,388.4C410.8,381.6 407.0,373.4 404.9,364.5C402.8,355.6 402.3,343.3 402.0,334.7C401.7,326.1 401.9,317.2 403.0,312.9C404.1,308.6 406.9,309.4 408.9,308.9C410.9,308.4 412.9,307.9 414.9,309.9C416.9,311.9 418.6,316.7 420.8,320.8C423.0,324.9 426.3,331.5 427.8,334.7C429.3,337.9 429.6,339.1 430.0,340.0" stroke="#4e3520" stroke-width="1.8"/><path d="M427.8,406.3C427.6,401.0 426.5,384.8 426.8,374.5C427.1,364.2 428.7,353.3 429.8,344.7C430.9,336.1 431.9,328.9 433.3,323.0C434.7,317.1 436.5,313.0 438.3,309.0C440.1,305.0 442.2,302.0 444.1,299.0C446.1,296.0 448.4,292.9 450.0,291.0C451.6,289.1 452.8,287.7 454.0,287.5C455.2,287.3 456.1,288.5 457.3,290.0C458.6,291.5 460.5,294.1 461.5,296.6C462.5,299.1 462.6,302.1 463.1,304.8C463.7,307.6 464.1,310.3 464.8,313.1C465.5,315.9 466.5,318.6 467.3,321.4C468.1,324.2 468.8,325.8 469.7,329.7C470.6,333.6 472.2,339.9 473.0,345.0C473.8,350.1 474.3,355.1 474.5,360.0C474.7,364.9 474.7,370.1 474.0,374.5C473.3,378.9 472.4,382.4 470.5,386.4C468.6,390.4 464.6,395.0 462.6,398.3C460.6,401.6 459.3,405.0 458.6,406.3" stroke="#4e3520" stroke-width="1.8"/><path d="M451.9,310.6C451.0,311.7 448.1,314.7 446.6,317.3C445.2,319.9 444.2,321.8 443.2,326.4C442.2,331.0 441.2,336.7 440.5,344.7C439.8,352.7 438.8,366.2 439.0,374.5C439.2,382.8 440.1,390.0 441.7,394.3C443.3,398.6 446.5,399.6 448.6,400.3C450.8,401.0 452.9,401.0 454.6,398.3C456.3,395.6 457.5,391.7 458.6,384.4C459.8,377.1 460.9,363.3 461.5,354.6C462.1,345.9 462.5,337.1 462.5,332.0C462.5,326.9 462.4,326.5 461.5,323.9C460.6,321.3 458.9,318.6 457.3,316.4C455.7,314.2 452.8,311.6 451.9,310.6" stroke="#4e3520" stroke-width="1.7"/><path d="M431.7,409.4C430.4,409.9 426.2,410.8 423.9,412.6C421.5,414.4 419.3,417.2 417.6,420.4C415.9,423.5 414.6,428.1 413.7,431.5C412.8,434.9 412.4,437.5 412.1,440.9C411.8,444.3 411.7,448.9 412.1,451.9C412.5,454.9 413.2,457.3 414.4,459.0C415.6,460.7 416.8,461.3 419.2,462.1C421.6,462.9 425.2,463.3 428.6,463.7C432.0,464.1 435.9,464.4 439.6,464.5C443.3,464.6 447.5,464.6 450.6,464.5C453.8,464.4 457.2,463.8 458.5,463.7" stroke="#4e3520" stroke-width="2"/><path d="M474.2,427.5C475.0,428.2 477.8,429.3 478.9,431.5C479.9,433.7 480.5,437.8 480.5,440.9C480.5,444.0 479.9,447.7 478.9,450.3C477.8,452.9 476.0,454.8 474.2,456.6C472.4,458.4 470.3,460.0 467.9,461.3C465.5,462.6 461.3,464.0 460.0,464.5" stroke="#4e3520" stroke-width="2.2"/><path d="M458.5,406.3C459.6,406.0 462.2,404.6 464.8,404.7C467.4,404.8 471.1,407.1 474.2,407.1C477.3,407.1 480.5,405.5 483.6,404.7C486.8,403.9 490.4,402.8 493.1,402.4C495.8,402.0 497.5,401.9 500.0,402.5C502.5,403.1 505.5,404.4 508.3,405.8C511.1,407.2 513.9,410.6 516.6,410.7C519.4,410.8 521.5,408.1 524.8,406.6C528.1,405.1 532.2,402.9 536.4,401.6C540.5,400.4 544.7,399.7 549.7,399.1C554.7,398.6 561.2,398.2 566.2,398.3C571.2,398.4 575.1,398.9 579.5,400.0C583.9,401.1 589.3,403.5 592.7,404.9C596.1,406.3 597.4,405.7 600.0,408.2C602.6,410.7 605.4,416.6 608.1,420.0C610.8,423.4 613.9,425.3 616.4,428.3C618.9,431.3 621.2,434.9 623.0,438.2C624.8,441.5 626.2,445.1 627.2,448.1C628.2,451.1 628.4,452.8 628.8,456.4C629.1,460.0 629.3,465.2 629.3,469.6C629.3,474.0 628.9,480.7 628.8,482.9" stroke="#4e3520" stroke-width="2"/><path d="M629.6,458.1C629.9,457.3 630.2,454.4 631.3,453.1C632.4,451.9 634.4,450.9 636.3,450.6C638.2,450.3 640.7,450.4 642.9,451.4C645.1,452.4 647.6,453.9 649.5,456.4C651.4,458.9 653.3,462.7 654.5,466.3C655.7,469.9 656.6,474.0 656.9,477.9C657.2,481.8 656.8,486.2 656.1,489.5C655.4,492.8 654.4,495.3 652.8,497.8C651.1,500.3 649.0,502.5 646.2,504.4C643.5,506.3 639.6,508.1 636.3,509.3C633.0,510.5 629.6,511.2 626.3,511.8C623.0,512.4 618.0,512.6 616.4,512.7" stroke="#4e3520" stroke-width="1.7"/><path d="M599.0,441.0C598.2,439.8 595.9,435.6 594.0,434.0C592.1,432.4 589.6,432.1 587.7,431.4C585.8,430.7 585.0,430.2 582.8,429.8C580.6,429.4 577.8,429.2 574.5,428.9C571.2,428.6 567.0,428.0 562.9,428.1C558.8,428.2 553.0,429.0 549.7,429.8C546.4,430.6 544.9,431.5 543.0,433.1C541.1,434.8 539.5,436.9 538.1,439.7C536.7,442.4 535.6,446.0 534.8,449.6C534.0,453.2 533.4,457.3 533.1,461.2C532.8,465.1 532.8,469.2 533.1,472.8C533.4,476.4 534.3,480.0 534.8,482.7C535.3,485.4 534.7,485.9 536.0,488.9C537.3,491.9 539.7,497.4 542.8,500.6C545.9,503.8 550.5,506.4 554.4,508.3C558.3,510.2 564.1,511.6 566.1,512.2" stroke="#4e3520" stroke-width="2.2"/><path d="M478.6,487.0C477.0,488.6 472.8,493.8 468.9,496.7C465.0,499.6 459.5,501.8 455.3,504.4C451.1,507.0 446.0,509.6 443.6,512.2C441.2,514.8 440.4,517.7 440.7,520.0C441.0,522.3 442.5,524.5 445.6,525.8C448.7,527.1 453.7,527.6 459.2,527.8C464.7,528.0 473.4,527.8 478.6,526.8C483.8,525.8 486.7,523.8 490.3,522.0C493.9,520.2 496.4,518.4 500.0,516.1C503.6,513.8 508.1,510.1 511.7,508.3C515.3,506.5 519.8,505.9 521.4,505.4" stroke="#4e3520" stroke-width="1.8"/><path d="M461.1,512.2C459.8,512.4 455.4,512.4 453.3,513.2C451.2,514.0 449.5,515.5 448.5,517.1C447.5,518.7 447.7,521.9 447.5,522.9" stroke="#4e3520" stroke-width="2"/><path d="M507.8,510.3C506.8,511.3 503.2,514.1 501.9,516.1C500.6,518.1 499.7,520.2 500.0,522.0C500.3,523.8 501.6,525.5 503.9,526.8C506.2,528.1 508.1,529.2 513.6,529.7C519.1,530.2 528.1,529.9 536.9,529.7C545.6,529.5 556.4,528.9 566.1,528.7C575.8,528.5 587.2,528.9 595.3,528.7C603.4,528.6 609.9,528.6 614.7,527.8C619.6,527.0 623.1,525.5 624.4,523.9C625.7,522.3 624.4,520.0 622.5,518.1C620.6,516.2 616.7,513.8 612.8,512.2C608.9,510.6 603.1,509.1 599.2,508.3C595.3,507.5 591.0,507.5 589.4,507.4" stroke="#4e3520" stroke-width="1.7"/><path d="M523.3,514.2C522.0,514.4 517.7,514.3 515.6,515.1C513.5,515.9 511.7,517.4 510.7,519.0C509.7,520.6 509.5,523.3 509.7,524.9C509.9,526.5 511.4,528.1 511.7,528.7" stroke="#4e3520" stroke-width="2"/><path d="M513.6,508.3C515.9,507.8 521.7,505.9 527.2,505.4C532.7,504.9 540.9,504.6 546.7,505.4C552.5,506.2 558.7,509.2 562.2,510.3C565.8,511.4 567.0,511.9 568.0,512.2" stroke="#4e3520" stroke-width="1.8"/><path d="M460.0,466.1C460.3,467.4 460.3,471.5 461.6,473.9C462.9,476.2 465.5,478.4 467.9,480.2C470.3,482.0 473.7,483.6 475.8,484.9C477.9,486.2 479.7,487.6 480.5,488.1" stroke="#6a4a30" stroke-width="1.5"/><path d="M509.7,476.2C510.7,477.0 514.1,479.0 515.6,481.1C517.1,483.2 518.4,486.3 518.5,488.9C518.6,491.5 517.6,494.8 516.5,496.7C515.4,498.6 513.8,499.3 511.7,500.6C509.6,501.9 506.5,503.1 503.9,504.4C501.3,505.7 498.7,507.0 496.1,508.3C493.5,509.6 489.6,511.6 488.3,512.2" stroke="#4e3520" stroke-width="1.6"/><path d="M583.0,429.0C583.8,429.3 587.5,430.2 588.0,431.0C588.5,431.8 585.3,433.7 586.0,434.0C586.7,434.3 590.7,432.3 592.0,433.0C593.3,433.7 593.0,437.3 594.0,438.0C595.0,438.7 597.0,436.3 598.0,437.0C599.0,437.7 599.7,441.2 600.0,442.0" stroke="#4e3520" stroke-width="2.2"/><path d="M590.0,503.0C591.2,503.3 595.2,505.3 597.0,505.0C598.8,504.7 599.8,500.7 601.0,501.0C602.2,501.3 602.3,505.5 604.0,507.0C605.7,508.5 609.8,509.5 611.0,510.0" stroke="#4e3520" stroke-width="2.4"/><path d="M428.6,437.7L430.2,442.5" stroke="#a89888" stroke-width="1.2"/></g>
<ellipse cx="440.5" cy="432.2" rx="7.2" ry="5.6" transform="rotate(-15 440.5 432.2)" fill="#8a4a1c" stroke="#3e2410" stroke-width="1.2"/>
<circle cx="439" cy="431" r="1.6" fill="#e8c8a8"/>

<!-- MRI -->
<rect x="829.5" y="65.5" width="150.5" height="512" fill="#030303"/>
<clipPath id="c1"><rect x="829.5" y="65.5" width="150.5" height="125.1"/></clipPath><clipPath id="c2"><rect x="829.5" y="194.1" width="150.5" height="126"/></clipPath><clipPath id="c3"><rect x="829.5" y="323.9" width="150.5" height="124.2"/></clipPath><clipPath id="c4"><rect x="829.5" y="451.9" width="150.5" height="125.6"/></clipPath><g clip-path="url(#c1)"><g filter="url(#bl)"><polygon points="848.8,64.0 950.0,64.0 948.0,86.0 946.0,117.0 944.0,148.0 942.0,169.0 938.0,192.0 869.0,192.0 865.5,173.0 860.0,148.0 855.0,117.0 850.0,86.0" fill="#848484"/><polygon points="852.0,65.0 884.0,65.0 884.0,80.0 888.0,88.0 896.0,95.0 898.0,102.0 880.0,128.0 866.0,148.0 858.0,130.0 854.0,100.0" fill="#8e8e8e"/><polygon points="884.4,81.7 887.8,87.2 895.6,93.9 897.8,101.7 893.3,105.0 888.9,111.7 884.4,117.2 880.0,118.0 881.0,100.0" fill="#484848"/><polygon points="897.8,101.7 902.0,112.0 903.0,130.0 896.0,150.0 896.0,192.0 869.0,192.0 864.0,165.0 862.0,145.0 870.0,138.0 878.9,128.0" fill="#a8a8a8"/><polygon points="896.0,150.0 912.0,150.0 912.0,192.0 896.0,192.0" fill="#989898"/><polygon points="904.4,65.0 913.0,65.0 913.0,107.0 904.4,107.0" fill="#7a7a7a"/><polygon points="913.3,65.0 936.0,65.0 935.6,98.3 934.4,107.2 928.9,111.7 920.0,113.9 913.3,111.7" fill="#7c7c7c"/><polygon points="935.6,65.0 945.0,65.0 944.0,130.0 940.0,152.0 936.0,152.0 936.0,110.0" fill="#2e2e2e"/><polygon points="906.7,107.2 913.3,107.2 913.3,130.0 906.7,130.0" fill="#111"/><polygon points="912.2,113.9 937.8,110.0 940.0,130.0 938.0,152.0 898.9,152.8 898.9,125.0 906.0,125.0" fill="#2c2c2c"/><ellipse cx="923.3" cy="122.2" rx="5.5" ry="5" fill="#555" transform="rotate(0 923.3 122.2)"/><polygon points="912.2,152.8 937.8,152.8 937.8,192.0 912.2,192.0" fill="#7a7a7a"/><polygon points="913.0,153.0 936.0,153.0 935.0,162.0 914.0,162.0" fill="#8e8e8e"/><ellipse cx="913.3" cy="134.5" rx="4.5" ry="1.8" fill="#e0e0e0" transform="rotate(0 913.3 134.5)"/><ellipse cx="909.7" cy="114" rx="1.4" ry="4.5" fill="#d0d0d0" transform="rotate(0 909.7 114)"/><ellipse cx="899.2" cy="93.3" rx="1.3" ry="3" fill="#d0d0d0" transform="rotate(0 899.2 93.3)"/><circle cx="924.4" cy="138.3" r="2.6" fill="none" stroke="#bbb" stroke-width="1.2"/><path d="M850.0,66.0C850.3,70.0 851.0,80.2 852.0,90.0C853.0,99.8 854.3,115.0 856.0,125.0C857.7,135.0 859.8,139.0 862.0,150.0C864.2,161.0 867.8,184.2 869.0,191.0" fill="none" stroke="#d4d4d4" stroke-width="3" stroke-linecap="round"/><path d="M880.0,65.0C880.5,65.8 882.1,68.5 883.0,70.0C883.9,71.5 885.2,73.3 885.6,74.0" fill="none" stroke="#a8a8a8" stroke-width="1.6" stroke-linecap="round"/><path d="M877.8,125.0C876.7,126.8 873.2,132.3 871.0,136.0C868.8,139.7 865.5,145.3 864.4,147.2" fill="none" stroke="#d0d0d0" stroke-width="1.2" stroke-linecap="round"/><path d="M902.8,79.4C902.8,84.5 902.9,101.6 902.8,110.0C902.7,118.4 902.6,123.3 902.2,130.0C901.8,136.7 900.8,146.7 900.5,150.0" fill="none" stroke="#0e0e0e" stroke-width="2" stroke-linecap="round"/><path d="M911.7,65.0C911.7,69.2 911.7,83.3 911.7,90.0C911.7,96.7 911.7,102.5 911.7,105.0" fill="none" stroke="#151515" stroke-width="2" stroke-linecap="round"/><path d="M922.2,65.0C923.2,67.5 925.8,74.5 928.0,80.0C930.2,85.5 934.3,95.2 935.6,98.3" fill="none" stroke="#353535" stroke-width="2.6" stroke-linecap="round"/><path d="M913.3,111.7C914.4,112.1 917.4,113.9 920.0,113.9C922.6,113.9 926.5,112.8 928.9,111.7C931.3,110.6 933.5,108.0 934.4,107.2" fill="none" stroke="#d2d2d2" stroke-width="2" stroke-linecap="round"/><path d="M945.6,65.0C945.5,70.8 945.4,89.2 945.0,100.0C944.6,110.8 944.1,120.0 943.5,130.0C942.9,140.0 942.5,149.8 941.5,160.0C940.5,170.2 938.4,185.8 937.8,191.0" fill="none" stroke="#c8c8c8" stroke-width="1.8" stroke-linecap="round"/><path d="M913.0,152.0L913.0,191.0" fill="none" stroke="#2a2a2a" stroke-width="1.5" stroke-linecap="round"/></g></g><g clip-path="url(#c2)"><g filter="url(#bl)"><polygon points="848.8,193.0 945.0,193.0 944.0,236.0 943.0,277.0 942.0,321.0 873.4,321.0 866.9,298.7 861.4,276.9 856.0,250.0 850.0,215.0" fill="#4a4a4a"/><path d="M878.0,228.0C882.5,222.5 895.0,218.3 899.0,222.0C903.0,225.7 901.8,238.7 902.0,250.0C902.2,261.3 901.2,278.3 900.0,290.0C898.8,301.7 899.0,315.0 895.0,320.0C891.0,325.0 880.2,325.0 876.0,320.0C871.8,315.0 870.7,300.8 870.0,290.0C869.3,279.2 870.7,265.3 872.0,255.0C873.3,244.7 873.5,233.5 878.0,228.0Z" fill="#535353"/><path d="M905.0,200.0C909.5,196.5 929.5,200.0 935.0,205.0C940.5,210.0 938.2,222.8 938.0,230.0C937.8,237.2 938.3,245.0 934.0,248.0C929.7,251.0 916.3,251.7 912.0,248.0C907.7,244.3 909.2,234.0 908.0,226.0C906.8,218.0 900.5,203.5 905.0,200.0Z" fill="#5e5e5e"/><path d="M912.8,230.0C914.6,228.0 921.8,227.3 923.7,229.0C925.6,230.7 925.8,238.0 924.0,240.0C922.2,242.0 914.9,242.7 913.0,241.0C911.1,239.3 911.0,232.0 912.8,230.0Z" fill="#8c8c8c"/><polygon points="936.8,193.0 945.0,193.0 944.0,260.0 943.0,321.0 937.0,321.0" fill="#1e1e1e"/><path d="M865.0,231.0C867.0,228.7 876.0,229.8 878.0,232.0C880.0,234.2 879.0,241.7 877.0,244.0C875.0,246.3 868.0,248.2 866.0,246.0C864.0,243.8 863.0,233.3 865.0,231.0Z" fill="#1e1e1e"/><path d="M897.5,233.0C899.0,229.2 904.2,229.2 906.0,232.0C907.8,234.8 906.5,245.0 908.0,250.0C909.5,255.0 911.3,260.0 915.0,262.0C918.7,264.0 926.3,262.0 930.0,262.0C933.7,262.0 935.8,260.8 937.0,262.0C938.2,263.2 943.2,267.7 937.0,269.0C930.8,270.3 906.7,272.3 900.0,270.0C893.3,267.7 897.4,261.2 897.0,255.0C896.6,248.8 896.0,236.8 897.5,233.0Z" fill="#1c1c1c"/><path d="M908.4,270.0C912.7,267.7 930.2,267.3 934.6,269.5C939.0,271.7 939.3,280.7 935.0,283.0C930.7,285.3 913.4,285.6 909.0,283.4C904.6,281.2 904.1,272.3 908.4,270.0Z" fill="#6c6c6c"/><path d="M901.8,234.4C902.5,232.6 904.9,232.1 906.0,233.0C907.1,233.9 908.2,236.7 908.4,240.0C908.6,243.3 907.9,251.0 907.0,253.0C906.1,255.0 903.9,253.5 903.0,252.0C902.1,250.5 901.7,246.9 901.5,244.0C901.3,241.1 901.0,236.2 901.8,234.4Z" fill="#dedede"/><ellipse cx="865.2" cy="259" rx="6.8" ry="13.5" fill="#e4e4e4" transform="rotate(22 865.2 259)"/><ellipse cx="929.7" cy="258" rx="5" ry="2.5" fill="#d8d8d8" transform="rotate(0 929.7 258)"/><ellipse cx="922.6" cy="245" rx="3" ry="3" fill="#c8c8c8" transform="rotate(0 922.6 245)"/><path d="M898.6,208.2C897.7,209.5 894.8,213.5 893.1,215.9C891.5,218.3 890.2,220.2 888.7,222.4C887.2,224.6 886.1,226.1 884.3,229.0C882.5,231.9 879.6,236.3 877.8,239.9C876.0,243.5 874.1,249.0 873.4,250.8" fill="none" stroke="#d4d4d4" stroke-width="1.8" stroke-linecap="round"/><path d="M895.0,208.0C893.8,209.7 890.5,214.3 888.0,218.0C885.5,221.7 882.7,225.3 880.0,230.0C877.3,234.7 873.3,243.3 872.0,246.0" fill="none" stroke="#252525" stroke-width="1.2" stroke-linecap="round"/><path d="M866.9,232.5C867.8,232.2 870.2,230.7 872.0,231.0C873.8,231.3 876.8,233.9 877.8,234.5" fill="none" stroke="#c8c8c8" stroke-width="1.6" stroke-linecap="round"/><path d="M921.5,199.5C922.1,200.4 923.5,203.0 925.0,205.0C926.5,207.0 929.3,210.4 930.2,211.5" fill="none" stroke="#d6d6d6" stroke-width="2.4" stroke-linecap="round"/><path d="M901.8,194.0C902.5,196.7 904.7,204.9 906.2,210.4C907.7,215.9 910.2,223.2 910.6,226.8C911.0,230.5 908.8,231.4 908.4,232.3" fill="none" stroke="#141414" stroke-width="1.8" stroke-linecap="round"/><path d="M916.0,194.0C916.9,196.4 919.5,205.1 921.5,208.2C923.5,211.3 926.9,211.9 928.0,212.6" fill="none" stroke="#1a1a1a" stroke-width="1.5" stroke-linecap="round"/><path d="M918.0,286.0C918.0,288.3 918.1,294.3 918.2,300.0C918.3,305.7 918.4,316.7 918.4,320.0" fill="none" stroke="#1c1c1c" stroke-width="1.8" stroke-linecap="round"/><path d="M942.5,194.0C942.3,205.0 941.8,239.0 941.5,260.0C941.2,281.0 940.7,310.0 940.5,320.0" fill="none" stroke="#9a9a9a" stroke-width="1.3" stroke-linecap="round"/></g></g><g clip-path="url(#c3)"><g filter="url(#bl)"><polygon points="849.5,323.0 940.0,323.0 941.0,385.0 940.0,449.0 870.8,449.0 860.0,416.0 851.6,392.0 849.3,375.0" fill="#555"/><path d="M852.0,324.0C859.3,322.7 893.5,320.0 902.0,324.0C910.5,328.0 905.6,342.6 903.0,348.0C900.4,353.4 891.7,356.3 886.5,356.5C881.3,356.7 876.8,353.1 872.0,349.0C867.2,344.9 861.3,336.2 858.0,332.0C854.7,327.8 844.7,325.3 852.0,324.0Z" fill="#5e5e5e"/><path d="M872.0,362.0C877.3,357.2 892.8,351.3 898.0,356.0C903.2,360.7 901.8,374.7 903.0,390.0C904.2,405.3 910.2,438.3 905.0,448.0C899.8,457.7 878.5,452.7 872.0,448.0C865.5,443.3 867.0,430.5 866.0,420.0C865.0,409.5 865.0,394.7 866.0,385.0C867.0,375.3 866.7,366.8 872.0,362.0Z" fill="#626262"/><polygon points="864.7,345.0 886.5,356.5 869.0,376.0" fill="#1c1c1c"/><path d="M903.0,330.0C906.0,327.3 917.7,332.7 922.0,336.0C926.3,339.3 928.3,345.0 929.0,350.0C929.7,355.0 928.8,363.2 926.0,366.0C923.2,368.8 915.7,369.3 912.0,367.0C908.3,364.7 905.5,358.2 904.0,352.0C902.5,345.8 900.0,332.7 903.0,330.0Z" fill="#6a6a6a"/><polygon points="929.0,324.0 940.0,324.0 940.0,449.0 931.0,449.0" fill="#1e1e1e"/><path d="M906.0,367.0C910.0,362.2 927.5,360.8 932.0,365.0C936.5,369.2 937.0,387.2 933.0,392.0C929.0,396.8 912.5,398.2 908.0,394.0C903.5,389.8 902.0,371.8 906.0,367.0Z" fill="#1a1a1a"/><path d="M912.0,396.0C915.7,387.3 930.2,387.3 934.0,396.0C937.8,404.7 938.7,439.3 935.0,448.0C931.3,456.7 915.8,456.7 912.0,448.0C908.2,439.3 908.3,404.7 912.0,396.0Z" fill="#5e5e5e"/><path d="M913.0,397.0C915.8,395.2 927.8,394.5 931.0,396.0C934.2,397.5 934.8,404.2 932.0,406.0C929.2,407.8 917.2,408.5 914.0,407.0C910.8,405.5 910.2,398.8 913.0,397.0Z" fill="#8a8a8a"/><path d="M899.0,360.0C900.0,356.5 903.5,355.3 905.0,357.0C906.5,358.7 907.7,365.8 908.0,370.0C908.3,374.2 907.8,379.0 907.0,382.0C906.2,385.0 904.3,388.7 903.0,388.0C901.7,387.3 899.7,382.7 899.0,378.0C898.3,373.3 898.0,363.5 899.0,360.0Z" fill="#e8e8e8"/><ellipse cx="854.8" cy="382" rx="4.4" ry="8" fill="#e4e4e4" transform="rotate(-10 854.8 382)"/><circle cx="884" cy="332.5" r="1.8" fill="#222"/><circle cx="923.5" cy="370" r="3.5" fill="none" stroke="#777" stroke-width="1.4"/><path d="M885.4,324.0C886.7,326.0 890.3,332.0 893.0,336.0C895.7,340.0 900.3,346.0 901.8,348.0" fill="none" stroke="#222" stroke-width="1.5" stroke-linecap="round"/><path d="M904.0,324.0C905.5,325.0 910.1,327.8 913.0,330.0C915.9,332.2 919.0,334.0 921.5,337.0C924.0,340.0 926.9,346.2 928.0,348.0" fill="none" stroke="#888" stroke-width="1.3" stroke-linecap="round"/><path d="M906.0,358.0C907.3,358.5 911.4,360.7 914.0,361.0C916.6,361.3 920.2,360.2 921.5,360.0" fill="none" stroke="#aaa" stroke-width="1.6" stroke-linecap="round"/><path d="M855.9,324.0C857.2,326.3 861.3,333.8 864.0,338.0C866.7,342.2 868.5,345.9 872.3,349.0C876.0,352.1 884.1,355.5 886.5,356.8" fill="none" stroke="#8a8a8a" stroke-width="1.2" stroke-linecap="round"/><path d="M849.5,386.0C850.6,389.2 853.8,398.5 856.0,405.0C858.2,411.5 860.5,418.0 863.0,425.0C865.5,432.0 869.5,443.3 870.8,447.0" fill="none" stroke="#8a8a8a" stroke-width="1.6" stroke-linecap="round"/><path d="M936.5,324.0C936.7,335.0 937.2,369.3 937.5,390.0C937.8,410.7 938.3,438.3 938.5,448.0" fill="none" stroke="#8c8c8c" stroke-width="1.5" stroke-linecap="round"/></g></g><g clip-path="url(#c4)"><g filter="url(#bl)"><polygon points="848.8,451.0 941.6,451.0 942.7,494.0 941.6,578.0 885.3,578.0 879.0,560.0 866.5,535.0 856.0,504.0 850.0,473.0" fill="#5e5e5e"/><path d="M850.0,452.0C857.7,448.5 888.8,449.0 897.0,452.0C905.2,455.0 900.2,463.7 899.0,470.0C897.8,476.3 893.2,483.3 890.0,490.0C886.8,496.7 883.3,503.0 880.0,510.0C876.7,517.0 873.7,532.8 870.0,532.0C866.3,531.2 861.2,514.8 858.0,505.0C854.8,495.2 852.3,481.8 851.0,473.0C849.7,464.2 842.3,455.5 850.0,452.0Z" fill="#6a6a6a"/><path d="M899.4,455.0C904.4,450.0 926.2,450.8 932.0,455.0C937.8,459.2 934.2,473.2 934.0,480.0C933.8,486.8 934.7,493.0 931.0,496.0C927.3,499.0 916.8,499.8 912.0,498.0C907.2,496.2 904.1,492.2 902.0,485.0C899.9,477.8 894.4,460.0 899.4,455.0Z" fill="#626262"/><path d="M910.0,478.0C913.0,474.3 926.5,474.0 930.0,477.0C933.5,480.0 934.0,492.3 931.0,496.0C928.0,499.7 915.5,502.0 912.0,499.0C908.5,496.0 907.0,481.7 910.0,478.0Z" fill="#777"/><polygon points="888.9,472.9 896.4,475.9 897.9,484.8 891.9,493.7 887.4,496.7" fill="#1c1c1c"/><path d="M902.0,499.0C906.8,495.0 926.7,495.3 932.0,498.0C937.3,500.7 934.0,509.8 934.0,515.0C934.0,520.2 935.7,526.3 932.0,529.0C928.3,531.7 916.8,532.2 912.0,531.0C907.2,529.8 904.7,527.3 903.0,522.0C901.3,516.7 897.2,503.0 902.0,499.0Z" fill="#262626"/><path d="M912.0,530.0C916.5,521.8 932.7,521.0 937.0,529.0C941.3,537.0 942.5,569.8 938.0,578.0C933.5,586.2 914.3,586.0 910.0,578.0C905.7,570.0 907.5,538.2 912.0,530.0Z" fill="#676767"/><path d="M912.0,530.0C915.0,528.3 928.5,527.7 932.0,529.0C935.5,530.3 936.0,536.3 933.0,538.0C930.0,539.7 917.5,540.3 914.0,539.0C910.5,537.7 909.0,531.7 912.0,530.0Z" fill="#7c7c7c"/><path d="M911.0,496.0C912.7,496.7 917.7,499.8 921.0,500.0C924.3,500.2 929.3,497.5 931.0,497.0" fill="none" stroke="#c0c0c0" stroke-width="1.8" stroke-linecap="round"/><path d="M906.8,455.0C907.0,458.3 907.5,468.8 908.0,475.0C908.5,481.2 909.5,489.2 909.8,492.0" fill="none" stroke="#333" stroke-width="1.6" stroke-linecap="round"/><path d="M920.0,455.0C921.0,457.0 924.0,463.0 926.0,467.0C928.0,471.0 931.0,477.0 932.0,479.0" fill="none" stroke="#333" stroke-width="1.6" stroke-linecap="round"/><path d="M932.0,465.0C932.3,466.7 933.3,471.7 934.0,475.0C934.7,478.3 935.7,483.3 936.0,485.0" fill="none" stroke="#b0b0b0" stroke-width="2" stroke-linecap="round"/><path d="M909.0,509.0C909.3,510.2 910.2,514.2 911.0,516.0C911.8,517.8 913.5,519.3 914.0,520.0" fill="none" stroke="#b8b8b8" stroke-width="1.5" stroke-linecap="round"/><ellipse cx="915" cy="520" rx="3.5" ry="1.4" fill="#d0d0d0" transform="rotate(0 915 520)"/><ellipse cx="926" cy="514" rx="2" ry="1.2" fill="#aaa" transform="rotate(0 926 514)"/><path d="M938.0,452.0C938.2,461.7 939.0,489.2 939.0,510.0C939.0,530.8 938.2,565.8 938.0,577.0" fill="none" stroke="#262626" stroke-width="3" stroke-linecap="round"/><path d="M941.0,452.0C941.0,461.7 941.2,489.2 941.0,510.0C940.8,530.8 940.2,565.8 940.0,577.0" fill="none" stroke="#a8a8a8" stroke-width="1.5" stroke-linecap="round"/><circle cx="900" cy="459" r="1.8" fill="#aaa"/></g></g>
<rect x="829.5" y="190.6" width="150.5" height="3.5" fill="#fff"/>
<rect x="829.5" y="320.1" width="150.5" height="3.8" fill="#fff"/>
<rect x="829.5" y="448.1" width="150.5" height="3.8" fill="#fff"/>

<!-- yellow arrow -->
<polygon points="1012,105 1047,105 1047,497 1066,497 1029.5,532.5 993,497 1012,497" fill="url(#gy)" stroke="#33596b" stroke-width="2"/>
<text transform="translate(1024.2,118.5) rotate(90)" class="lb" style="font-size:20.4px">Longitudinal and non-invasive follow-up</text>
</svg>
</body></html>
